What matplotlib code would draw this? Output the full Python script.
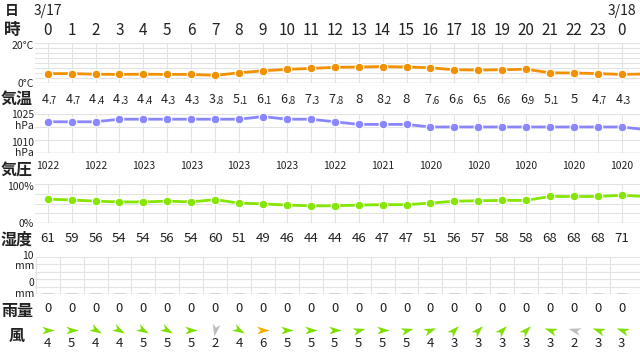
import matplotlib
matplotlib.use('Agg')
import numpy as np
import matplotlib.pyplot as plt
from matplotlib.path import Path
from matplotlib.markers import MarkerStyle
from matplotlib.transforms import Affine2D

plt.rcParams['font.family'] = ['Noto Sans CJK JP', 'DejaVu Sans']

# ---------------- data (hour 0 of 3/17 ... hour 0 of 3/18, plus the next point off-screen) ----------------
hour_labels = [str(h) for h in range(24)] + ['0']
dates = ['3/17', '3/18']
temp = [4.7, 4.7, 4.4, 4.3, 4.4, 4.3, 4.3, 3.8, 5.1, 6.1, 6.8, 7.3, 7.8, 8, 8.2, 8, 7.6,
        6.6, 6.5, 6.6, 6.9, 5.1, 5, 4.7, 4.3, 4.5]
pressure = [1022, 1022, 1022, 1023, 1023, 1023, 1023, 1023, 1023, 1024, 1023, 1023, 1022,
            1021, 1021, 1021, 1020, 1020, 1020, 1020, 1020, 1020, 1020, 1020, 1020, 1019]
humidity = [61, 59, 56, 54, 54, 56, 54, 60, 51, 49, 46, 44, 44, 46, 47, 47, 51, 56, 57,
            58, 58, 68, 68, 68, 71, 68]
rain = [0] * 25
wind_speed = [4, 5, 4, 4, 5, 5, 5, 2, 4, 6, 5, 5, 5, 5, 5, 5, 4, 3, 3, 3, 3, 3, 2, 3, 3]
# direction the arrow points, degrees counter-clockwise from east
wind_dir = [0, 0, -30, -30, -30, -30, 0, -100, -30, 0, 0, 0, 0, 15, 0, 15, 20, 45, 45, 45,
            45, 160, 165, 160, 160]

# ---------------- layout helpers ----------------
W, H = 640, 354
fig = plt.figure(figsize=(W / 100, H / 100), dpi=100)
X_LEFT = 35
COL0, STEP = 47.7, 23.92
XLIM = ((X_LEFT - COL0) / STEP, (W - COL0) / STEP)
GRID = '#e3e3e3'
TXT = '#222222'


def px_axes(top, bottom):
    ax = fig.add_axes([X_LEFT / W, 1 - bottom / H, (W - X_LEFT) / W, (bottom - top) / H])
    ax.set_xlim(*XLIM)
    for s in ax.spines.values():
        s.set_visible(False)
    ax.tick_params(left=False, bottom=False, labelleft=False, labelbottom=False)
    return ax


def row_axes(top, bottom):
    ax = px_axes(top, bottom)
    ax.set_ylim(0, 1)
    ax.patch.set_visible(False)
    return ax


def side_label(text, y, size=11.5, x=17):
    fig.text(x / W, 1 - y / H, text, ha='center', va='center', fontsize=size,
             color=TXT, fontweight='bold')


def scale_label(text, y, size=7.5):
    fig.text(34 / W, 1 - y / H, text, ha='right', va='center', fontsize=size, color=TXT)


x = np.arange(len(temp))
n = len(hour_labels)

# ---------------- header rows ----------------
side_label('日', 11, size=10, x=12)
side_label('時', 30, size=12, x=12)
hdr = row_axes(2, 40)
hdr.text(0, 0.76, dates[0], ha='center', va='center', fontsize=10, color=TXT)
hdr.text(n - 1, 0.76, dates[1], ha='center', va='center', fontsize=10, color=TXT)
for i, lab in enumerate(hour_labels):
    hdr.text(i, 0.26, lab, ha='center', va='center', fontsize=11, color=TXT)

# ---------------- temperature ----------------
ax_t = px_axes(43, 83)
ax_t.set_ylim(0, 20)
ax_t.set_xticks(np.arange(n))
ax_t.set_yticks(np.arange(0, 20.1, 2.5))
ax_t.grid(True, color=GRID, lw=0.8)
ax_t.axhline(0, color='#d0d0d0', lw=1)
ax_t.plot(x, temp, color='#f29100', lw=2, marker='o', ms=6.2, mec='white', mew=0.8,
          zorder=3)
scale_label('20°C', 46)
scale_label('0°C', 84)
side_label('気温', 99)
row_t = row_axes(90, 108)
for i in range(n):
    s = '%g' % temp[i]
    if '.' in s:
        a, b = s.split('.')
        row_t.annotate(a, (i, 0.45), xytext=(0.5, 0), textcoords='offset points',
                       ha='right', va='center', fontsize=9, color=TXT)
        row_t.annotate('.' + b, (i, 0.38), xytext=(0.3, 0), textcoords='offset points',
                       ha='left', va='center', fontsize=7, color=TXT)
    else:
        row_t.text(i, 0.45, s, ha='center', va='center', fontsize=9.5, color=TXT)

# ---------------- pressure ----------------
ax_p = px_axes(114, 153)
ax_p.set_ylim(1010, 1025)
ax_p.set_xticks(np.arange(n))
ax_p.set_yticks([1010, 1015, 1020, 1025])
ax_p.grid(True, color=GRID, lw=0.8)
ax_p.axhline(1010, color='#d0d0d0', lw=1)
ax_p.plot(x, pressure, color='#8a86ff', lw=2, marker='o', ms=6.2, mec='white', mew=0.8,
          zorder=3)
scale_label('1025', 115)
scale_label('hPa', 126)
scale_label('1010', 143)
scale_label('hPa', 153)
side_label('気圧', 171)
row_p = row_axes(158, 174)
for i in range(0, n, 2):
    row_p.text(i, 0.5, str(pressure[i]), ha='center', va='center', fontsize=7.5,
               color=TXT)

# ---------------- humidity ----------------
ax_h = px_axes(184, 223)
ax_h.set_ylim(0, 100)
ax_h.set_xticks(np.arange(n))
ax_h.set_yticks([0, 25, 50, 75, 100])
ax_h.grid(True, color=GRID, lw=0.8)
ax_h.axhline(0, color='#d0d0d0', lw=1)
ax_h.plot(x, humidity, color='#85e600', lw=2, marker='o', ms=6.2, mec='white', mew=0.8,
          zorder=3)
scale_label('100%', 187)
scale_label('0%', 224)
side_label('湿度', 240)
row_h = row_axes(230, 248)
for i in range(n):
    row_h.text(i, 0.5, str(humidity[i]), ha='center', va='center', fontsize=9.5,
               color=TXT)

# ---------------- rain ----------------
ax_r = px_axes(257, 294)
ax_r.set_ylim(0, 10)
ax_r.set_xticks(np.arange(n) - 0.5)
ax_r.set_yticks(np.arange(0, 10.1, 2))
ax_r.grid(True, color=GRID, lw=0.8)
ax_r.axhline(0, color='#d8d8d8', lw=1)
xr = np.arange(len(rain))
ax_r.hlines(rain, xr - 0.22, xr + 0.22, color='#cfcfcf', lw=2, zorder=3)
scale_label('10', 256)
scale_label('mm', 266)
scale_label('0', 283)
scale_label('mm', 294)
side_label('雨量', 311)
row_r = row_axes(300, 318)
for i in range(n):
    row_r.text(i, 0.5, '%g' % rain[i], ha='center', va='center', fontsize=9.5, color=TXT)

# ---------------- wind ----------------
side_label('風', 336)
row_w = row_axes(320, 352)
dart = np.array([[1.0, 0.0], [-1.0, 0.62], [-0.45, 0.0], [-1.0, -0.62], [1.0, 0.0]])
codes = [Path.MOVETO, Path.LINETO, Path.LINETO, Path.LINETO, Path.CLOSEPOLY]


def wind_color(sp):
    if sp <= 2:
        return '#bdbdbd'
    if sp >= 6:
        return '#f5ad00'
    return '#7fe000'


for i in range(n):
    m = MarkerStyle(Path(dart, codes), transform=Affine2D().rotate_deg(wind_dir[i]))
    row_w.plot(i, 0.68, marker=m, ms=9, color=wind_color(wind_speed[i]), mew=0,
               linestyle='none')
    row_w.text(i, 0.27, str(wind_speed[i]), ha='center', va='center', fontsize=9.5,
               color=TXT)

fig.savefig('out.png', dpi=100)
